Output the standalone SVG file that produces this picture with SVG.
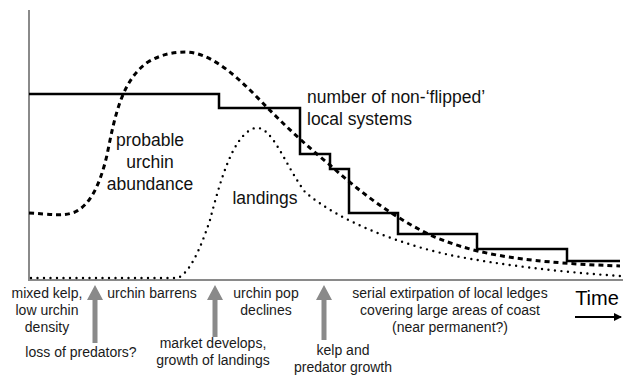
<svg xmlns="http://www.w3.org/2000/svg" width="623" height="376" viewBox="0 0 623 376">
<defs>
<style>
.ax{stroke:#8a8a8a;stroke-width:2;fill:none}
.step{stroke:#000;stroke-width:2.5;fill:none}
.dash{stroke:#000;stroke-width:3;fill:none;stroke-dasharray:5 4}
.dot{stroke:#000;stroke-width:2.4;fill:none;stroke-dasharray:0 6.5;stroke-linecap:round}
.big{font-family:"Liberation Sans",Arial,sans-serif;font-size:17.5px;fill:#111}
.sm{font-family:"Liberation Sans",Arial,sans-serif;font-size:14px;fill:#1a1a1a;text-anchor:middle}
.ga{fill:#8a8a8a}
</style>
<marker id="ah" markerWidth="8" markerHeight="8" refX="7" refY="4" orient="auto" markerUnits="userSpaceOnUse">
<path d="M0,0 L8,4 L0,8 Z" fill="#000"/>
</marker>
</defs>
<rect width="623" height="376" fill="#fff"/>
<g id="axes">
<path class="ax" d="M29,10 L29,280 L623,280"/>
</g>
<g id="curves">
<path id="steps" class="step" d="M29,94 L219,94 L219,108 L300,108 L300,154 L330,154 L330,169 L349,169 L349,213 L398,213 L398,234 L477,234 L477,249 L567,249 L567,261 L620,261"/>
<path id="urchin" class="dash" d="M29,213 C50,214 62,217 75,212 C90,205 100,185 107,155 C115,115 122,80 148,62 C162,54 174,52 186,52 C210,53 233,73 255,95 C280,121 302,142 330,165 C360,192 390,215 430,235 C470,252 510,262 620,266"/>
<path id="landings" class="dot" d="M31,278 L178,278 C190,272 200,250 210,220 C220,182 233,134 255,128 C272,125 285,165 305,192 C340,222 400,244 450,255 C500,265 560,272 620,276"/>
</g>
<g id="curve-labels">
<text class="big" x="150" y="146" text-anchor="middle">probable</text>
<text class="big" x="150" y="168" text-anchor="middle">urchin</text>
<text class="big" x="150" y="190" text-anchor="middle">abundance</text>
<text class="big" x="265" y="204" text-anchor="middle">landings</text>
<text class="big" x="307" y="103">number of non-‘flipped’</text>
<text class="big" x="307" y="125">local systems</text>
</g>
<g id="arrows">
<path class="ga" d="M95,285 L103,300 L97.5,300 L97.5,343 L92.5,343 L92.5,300 L87,300 Z"/>
<path class="ga" d="M215,285 L223,300 L217.5,300 L217.5,337 L212.5,337 L212.5,300 L207,300 Z"/>
<path class="ga" d="M324,285 L332,300 L326.5,300 L326.5,340 L321.5,340 L321.5,300 L316,300 Z"/>
</g>
<g id="phase-labels">
<text class="sm" x="47" y="298">mixed kelp,</text>
<text class="sm" x="47" y="315">low urchin</text>
<text class="sm" x="47" y="332">density</text>
<text class="sm" x="152" y="298">urchin barrens</text>
<text class="sm" x="266" y="298">urchin pop</text>
<text class="sm" x="266" y="315">declines</text>
<text class="sm" x="450" y="298">serial extirpation of local ledges</text>
<text class="sm" x="450" y="315">covering large areas of coast</text>
<text class="sm" x="450" y="332">(near permanent?)</text>
</g>
<g id="event-labels">
<text class="sm" x="81" y="357">loss of predators?</text>
<text class="sm" x="213" y="348">market develops,</text>
<text class="sm" x="213" y="365">growth of landings</text>
<text class="sm" x="343" y="355">kelp and</text>
<text class="sm" x="343" y="372">predator growth</text>
</g>
<g id="time">
<text x="597" y="305" text-anchor="middle" style="font-family:'Liberation Sans',Arial,sans-serif;font-size:20px;fill:#000">Time</text>
<line x1="575" y1="317" x2="621" y2="317" stroke="#000" stroke-width="2" marker-end="url(#ah)"/>
</g>
</svg>
